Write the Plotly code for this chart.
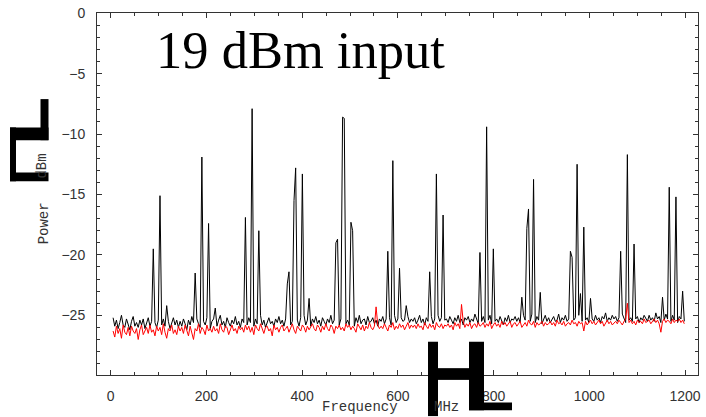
import numpy as np
import plotly.graph_objects as go

# ---------------- data ----------------
freq_start = 5.0     # MHz, first sample
freq_step = 3.5      # MHz, sample spacing

# black trace: noise floor (dBm)
black_floor = [
    -25.2, -25.9, -25.4, -26.1, -25.6, -25.0, -25.8, -26.0, -25.3, -25.7, -26.2, -25.5, -25.1, -25.9, -25.6, -26.0, -25.4, -25.8, -25.3, -26.1,
    -25.7, -25.2, -25.9, -25.5, -25.4, -25.6, -26.0, -25.4, -25.7, -25.8, -25.3, -25.9, -25.1, -25.5, -26.1, -25.6, -25.2, -25.8, -25.4, -26.0,
    -25.5, -25.9, -25.3, -25.7, -26.2, -25.4, -25.8, -25.1, -25.6, -25.9, -25.3, -25.7, -26.0, -25.4, -25.5, -25.8, -25.2, -25.6, -26.1, -25.5,
    -25.3, -25.7, -25.9, -25.4, -25.0, -25.8, -25.5, -26.0, -25.2, -25.6, -25.9, -25.4, -25.7, -25.1, -25.8, -25.5, -26.0, -25.3, -25.6, -25.4,
    -25.8, -25.2, -25.6, -25.4, -25.9, -25.3, -25.7, -25.5, -25.0, -25.8, -25.4, -26.0, -25.6, -25.2, -25.7, -25.5, -25.9, -25.3, -25.6, -25.1,
    -25.7, -25.4, -25.9, -25.3, -25.6, -25.2, -25.8, -25.5, -25.1, -25.7, -25.4, -25.9, -25.2, -25.6, -25.0, -25.8, -25.4, -25.5, -25.9, -25.3,
    -25.6, -25.1, -25.7, -25.4, -25.9, -25.2, -25.5, -25.8, -25.3, -25.6, -25.0, -25.7, -25.4, -25.5, -25.2, -25.8, -25.3, -25.6, -25.1, -25.7,
    -25.4, -25.8, -25.3, -25.5, -25.9, -25.2, -25.6, -25.0, -25.7, -25.4, -25.3, -25.8, -25.1, -25.6, -25.5, -25.2, -25.7, -25.4, -25.9, -25.3,
    -25.5, -25.1, -25.7, -25.3, -25.6, -25.2, -25.8, -25.4, -25.0, -25.6, -25.3, -25.7, -25.2, -25.5, -25.4, -25.8, -25.1, -25.6, -25.3, -25.5,
    -25.2, -25.7, -25.4, -25.0, -25.6, -25.3, -25.8, -25.2, -25.5, -25.4, -25.1, -25.7, -25.3, -25.6, -25.0, -25.5, -25.2, -25.8, -25.4, -25.3,
    -25.6, -25.1, -25.4, -25.7, -25.2, -25.5, -25.0, -25.6, -25.3, -25.8, -25.2, -25.4, -25.1, -25.6, -25.3, -25.5, -24.9, -25.4, -25.7, -25.2,
    -25.5, -25.1, -25.6, -25.3, -25.4, -25.0, -25.7, -25.2, -25.5, -25.3, -25.6, -25.1, -25.4, -25.8, -25.2, -25.5, -25.0, -25.6, -25.3, -25.4,
    -25.1, -25.5, -25.2, -25.6, -25.3, -25.0, -25.4, -25.7, -25.2, -25.5, -24.9, -25.3, -25.6, -25.1, -25.4, -25.2, -25.7, -25.3, -25.0, -25.5,
    -25.2, -25.6, -25.3, -25.1, -25.5, -25.4, -24.9, -25.6, -25.2, -25.4, -25.0, -25.5, -25.3, -25.7, -25.1, -25.4, -25.2, -25.6, -25.0, -25.3,
    -25.5, -25.1, -25.4, -25.2, -25.6, -24.9, -25.3, -25.5, -25.0, -25.4, -25.2, -25.6, -25.1, -25.3, -24.8, -25.5, -25.2, -25.4, -25.0, -25.3,
    -25.1, -25.5, -25.2, -25.4, -24.9, -25.3, -25.6, -25.0, -25.4, -25.2, -25.5, -24.9, -25.3, -25.1, -25.6, -25.2, -25.4, -25.0, -25.3, -25.5,
    -25.0, -25.4, -25.2, -25.5, -24.8, -25.3, -25.1, -25.6, -25.2, -25.4, -24.9, -25.3, -25.1, -25.5, -25.0, -25.4, -25.2, -25.6, -25.1, -25.3,
    -25.2, -25.5,
]

# black trace: spectral lines (MHz, dBm)
peak_freqs = [89, 103, 117, 176.5, 190.5, 204.5, 218.5, 281.5, 295.5, 309.5,
              369, 372.5, 383, 386.5, 400.5, 414.5, 470.5, 474, 484.5, 488,
              502, 505.5, 579, 589.5, 603.5, 617.5, 666.5, 680.5, 694.5, 771.5,
              785.5, 799.5, 859, 869.5, 873, 883.5, 897.5, 960.5, 964, 974.5,
              981.5, 988.5, 1002.5, 1065.5, 1079.5, 1093.5, 1153, 1167, 1181, 1195]
peak_levels = [-19.5, -15.1, -24.2, -21.5, -11.9, -17.4, -24.4, -16.9, -7.9, -18.0,
               -22.4, -21.4, -15.5, -12.8, -13.3, -23.6, -19.0, -18.7, -8.6, -8.7,
               -17.3, -18.0, -19.7, -12.2, -21.1, -24.2, -21.4, -13.3, -16.7, -19.8,
               -9.4, -19.5, -23.5, -17.8, -16.2, -13.75, -23.1, -19.7, -20.2, -12.5,
               -23.2, -17.7, -23.6, -19.7, -11.7, -19.1, -23.5, -14.4, -15.2, -23.0]

# red trace (dBm)
red_levels = [
    -26.3, -26.8, -25.9, -26.5, -26.1, -26.9, -25.8, -26.4, -26.6, -26.0, -26.7, -25.9, -26.3, -26.5, -26.1, -27.0, -26.2, -25.8, -26.6, -26.3,
    -26.0, -26.5, -25.8, -26.4, -26.2, -26.7, -25.9, -26.3, -26.0, -26.6, -25.7, -26.4, -26.9, -26.1, -26.3, -25.8, -26.5, -26.2, -26.6, -25.9,
    -26.3, -26.0, -26.5, -25.8, -26.2, -26.7, -25.9, -26.4, -27.0, -26.1, -26.3, -25.7, -26.5, -26.0, -26.2, -26.6, -25.8, -26.3, -26.1, -26.4,
    -25.9, -26.3, -26.1, -26.5, -25.7, -26.2, -26.4, -25.9, -26.0, -26.6, -26.2, -25.8, -26.3, -26.1, -26.5, -25.9, -26.2, -26.0, -26.4, -25.8,
    -26.2, -25.9, -26.4, -26.0, -26.6, -25.8, -26.1, -26.3, -25.7, -26.2, -26.5, -26.0, -25.9, -26.3, -26.1, -26.7, -25.8, -26.2, -26.0, -26.4,
    -26.0, -25.8, -26.3, -26.1, -25.9, -26.4, -26.0, -25.7, -26.2, -26.5, -25.9, -26.1, -26.3, -25.8, -26.0, -26.4, -25.9, -26.2, -26.0, -25.7,
    -26.1, -26.3, -25.8, -26.0, -26.4, -25.9, -26.2, -25.7, -26.1, -26.3, -25.8, -26.0, -26.5, -25.9, -26.1, -25.8, -26.2, -26.0, -26.3, -25.7,
    -26.0, -25.8, -26.2, -25.9, -26.1, -26.4, -25.7, -26.0, -26.2, -25.8, -26.3, -25.9, -26.1, -25.6, -26.0, -26.2, -25.9, -24.3, -25.8, -26.1,
    -25.9, -26.1, -25.7, -26.0, -26.3, -25.8, -26.0, -25.6, -26.2, -25.9, -26.1, -25.7, -26.0, -25.8, -26.2, -25.9, -25.6, -26.1, -25.8, -26.0,
    -25.8, -26.1, -25.7, -26.0, -25.9, -26.2, -25.6, -25.9, -26.1, -25.7, -26.0, -25.8, -26.2, -25.6, -25.9, -26.0, -25.7, -26.1, -25.8, -25.9,
    -25.7, -26.0, -25.8, -26.2, -25.6, -25.9, -25.7, -26.1, -24.1, -25.5, -26.0, -25.7, -25.9, -25.6, -26.1, -25.8, -25.7, -26.0, -25.6, -25.9,
    -25.8, -25.6, -26.0, -25.7, -25.9, -25.5, -26.1, -25.8, -25.6, -25.9, -25.7, -26.0, -25.5, -25.8, -25.6, -25.9, -25.7, -25.5, -26.0, -25.7,
    -25.6, -25.9, -25.7, -25.5, -26.0, -25.8, -25.6, -25.9, -25.4, -25.7, -25.8, -25.5, -26.0, -25.6, -25.8, -25.7, -25.5, -25.9, -25.6, -25.8,
    -25.7, -25.5, -25.8, -25.6, -25.9, -25.4, -25.7, -25.6, -25.8, -25.5, -25.9, -25.7, -25.6, -25.8, -25.4, -25.7, -25.6, -25.9, -25.5, -25.7,
    -25.6, -26.3, -25.5, -25.8, -25.6, -25.4, -25.7, -25.5, -25.8, -25.6, -25.4, -25.7, -25.5, -25.9, -25.6, -25.4, -25.7, -25.5, -25.8, -25.6,
    -25.5, -25.7, -25.4, -25.6, -25.8, -25.5, -25.3, -24.0, -25.6, -25.4, -25.7, -25.5, -25.8, -25.4, -25.6, -25.5, -25.7, -25.3, -25.6, -25.5,
    -25.4, -25.7, -25.5, -25.3, -25.6, -25.4, -25.7, -26.4, -25.5, -25.3, -25.6, -25.4, -25.5, -25.7, -25.3, -25.6, -25.4, -25.5, -25.3, -25.6,
    -25.4, -25.7,
]

x_tick_vals = [0, 200, 400, 600, 800, 1000, 1200]
y_tick_vals = [0, -5, -10, -15, -20, -25]

# ---------------- build series ----------------
n = len(black_floor)
freqs = freq_start + freq_step * np.arange(n)
black = np.array(black_floor, dtype=float)
for f, lv in zip(peak_freqs, peak_levels):
    black[int(round((f - freq_start) / freq_step))] = lv
red = np.array(red_levels, dtype=float)

# ---------------- figure ----------------
W, H = 706, 417
ML, MR, MT, MB = 97, 8, 5, 42
PW, PH = W - ML - MR, H - MT - MB


def px(x):
    return (x - ML) / PW


def py(y):
    return (H - MB - y) / PH


fig = go.Figure()
fig.add_trace(go.Scatter(x=freqs, y=black, mode="lines",
                         line=dict(color="black", width=1), showlegend=False))
fig.add_trace(go.Scatter(x=freqs, y=red, mode="lines",
                         line=dict(color="#ff0000", width=1), showlegend=False))

axis_common = dict(
    showline=True, linecolor="#333", linewidth=1, mirror="allticks",
    ticks="inside", ticklen=5, tickcolor="#333", tickwidth=1,
    showgrid=False, zeroline=False,
    tickfont=dict(family="Liberation Sans, Arial, sans-serif", size=14, color="#333"),
    ticklabelstandoff=8, ticklabeloverflow="allow",
)

fig.update_xaxes(range=[-28.6, 1227.1], tickvals=x_tick_vals,
                 minor=dict(ticks="inside", ticklen=3, dtick=50, tick0=0,
                            tickcolor="#333", showgrid=False),
                 **axis_common)
fig.update_yaxes(range=[-29.94, 0.02], tickvals=y_tick_vals,
                 minor=dict(ticks="inside", ticklen=3, dtick=1, tick0=0,
                            tickcolor="#333", showgrid=False),
                 **axis_common)

mono = "Liberation Mono, Courier New, monospace"
ann = [
    dict(text="19 dBm input", x=px(153.5), y=py(43), xanchor="left", yanchor="middle",
         font=dict(family="Liberation Serif, Times New Roman, serif", size=52.5, color="black")),
    dict(text="Power", x=px(44), y=py(220), textangle=-90, xanchor="center", yanchor="middle",
         font=dict(family=mono, size=14, color="#333")),
    dict(text="dBm", x=px(42), y=py(162), textangle=-90, xanchor="center", yanchor="middle",
         font=dict(family=mono, size=14, color="#333")),
    dict(text="Frequency", x=px(359.5), y=py(408), xanchor="center", yanchor="middle",
         font=dict(family=mono, size=14, color="#333")),
    dict(text="MHz", x=px(446), y=py(408), xanchor="center", yanchor="middle",
         font=dict(family=mono, size=14, color="#333")),
]
for a in ann:
    a.update(xref="paper", yref="paper", showarrow=False)

# broken bracket glyphs, drawn as solid blocks (pixel boxes: x0, y0, x1, y1)
glyph_boxes = [
    (40.5, 93, 48.5, 135),
    (10, 122, 48.5, 135),
    (10, 122, 16, 177),
    (10, 168, 48.5, 177),
    (428, 341, 438, 417),
    (438, 368, 470, 380),
    (469, 341, 484, 411),
    (469, 403, 512, 411),
]
shapes = [dict(type="rect", xref="paper", yref="paper",
               x0=px(x0), x1=px(x1), y0=py(y1), y1=py(y0),
               fillcolor="black", line=dict(width=0), layer="above")
          for (x0, y0, x1, y1) in glyph_boxes]

fig.update_layout(
    width=W, height=H, margin=dict(l=ML, r=MR, t=MT, b=MB, pad=0),
    paper_bgcolor="white", plot_bgcolor="white",
    annotations=ann, shapes=shapes, showlegend=False,
)

fig.write_html("out.html", config={"displayModeBar": False},
               post_script="document.body.style.margin='0px';document.body.style.overflow='hidden';")
